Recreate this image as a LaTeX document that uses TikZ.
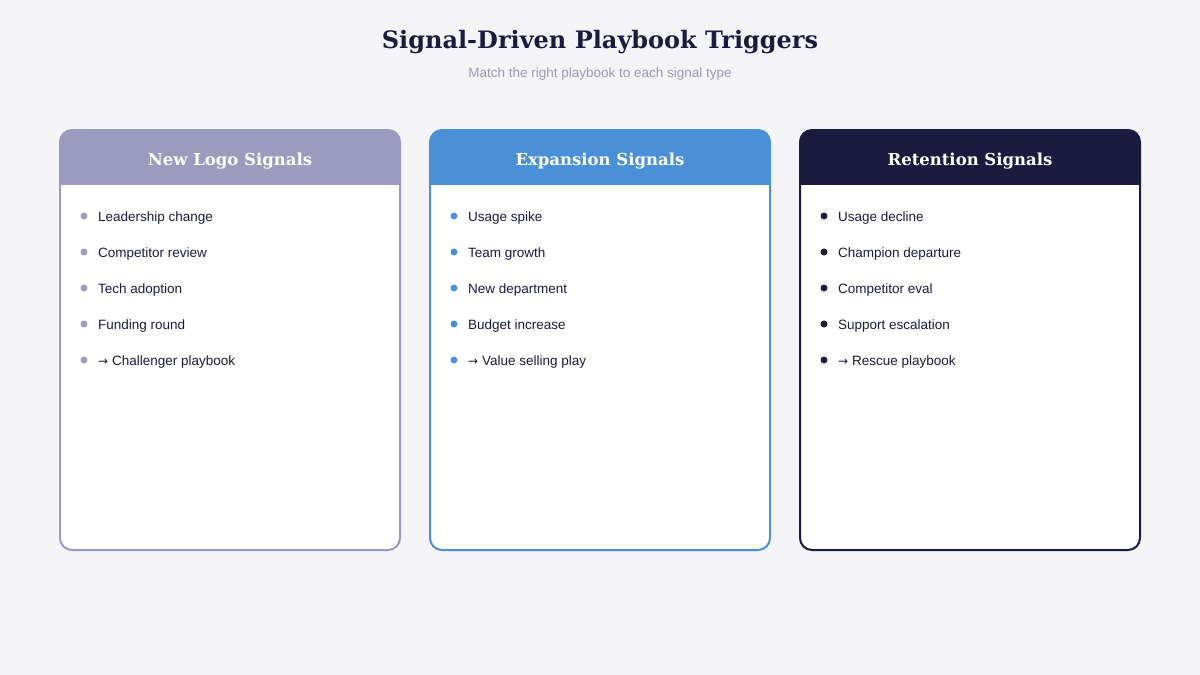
\documentclass[tikz,border=0pt]{standalone}
\usepackage{fontspec}
\setmainfont{Liberation Sans}
\newfontfamily\titlefont{DejaVu Serif}
\newfontfamily\arrowfont{DejaVu Sans}
\begin{document}
\definecolor{bg}{HTML}{F4F4F7}
\definecolor{cA}{HTML}{9B9BBD}
\definecolor{cB}{HTML}{4A90D9}
\definecolor{cC}{HTML}{1B1B3F}
\definecolor{txt}{HTML}{1B1B3F}
\definecolor{sub}{HTML}{9A9AB5}
\newcommand{\arr}{{\arrowfont\fontsize{12}{16}\selectfont →}}
\begin{tikzpicture}[x=1pt,y=-1pt,
  item/.style={anchor=west,font=\fontsize{13.5}{16}\selectfont,text=txt,inner sep=0},
  head/.style={font=\titlefont\bfseries\fontsize{16.5}{20}\selectfont,text=white},
  dot/.style={circle,inner sep=0,minimum size=7}]
\useasboundingbox[fill=bg] (0,0) rectangle (1200,675);
\node[font=\titlefont\bfseries\fontsize{24}{28}\selectfont,text=txt] (title) at (600,42) {Signal-Driven Playbook Triggers};
\node[font=\fontsize{13.5}{16}\selectfont,text=sub] (subtitle) at (600,74) {Match the right playbook to each signal type};
\foreach \x/\c/\h/\i/\n in {
 60/cA/New Logo Signals/a/{Leadership change,Competitor review,Tech adoption,Funding round,\arr{} Challenger playbook},
 430/cB/Expansion Signals/b/{Usage spike,Team growth,New department,Budget increase,\arr{} Value selling play},
 800/cC/Retention Signals/c/{Usage decline,Champion departure,Competitor eval,Support escalation,\arr{} Rescue playbook}}{
  \begin{scope}
   \path[clip,rounded corners=12] (\x,130) rectangle ++(340,420);
   \fill[white] (\x,130) rectangle ++(340,420);
   \fill[\c] (\x,130) rectangle ++(340,55);
  \end{scope}
  \draw[\c,line width=2,rounded corners=12] (\x,130) rectangle ++(340,420);
  \node[head] (h\i) at (\x+170,161) {\h};
  \foreach \t [count=\k] in \n {
    \node[dot,fill=\c] (d\i\k) at (\x+24,180+36*\k) {};
    \node[item] (t\i\k) at (\x+38,182+36*\k) {\t};
  }
}
\end{tikzpicture}
\end{document}
